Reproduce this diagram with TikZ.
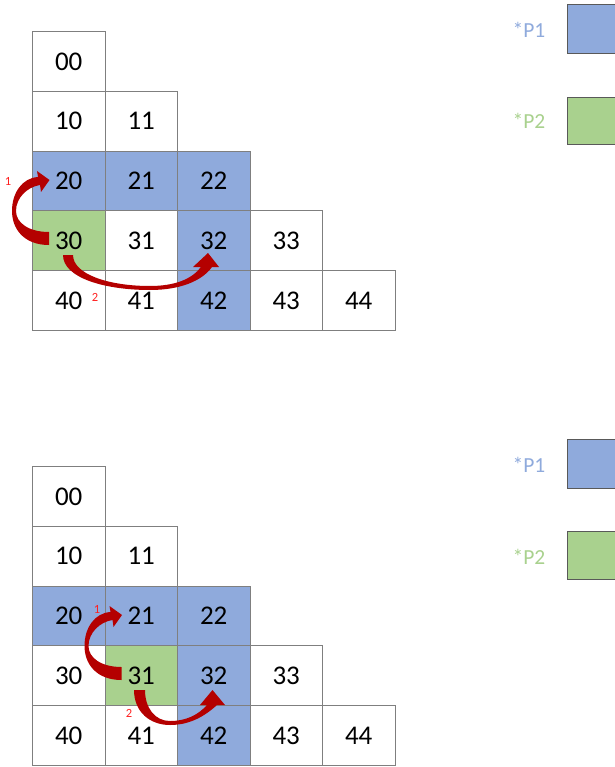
\documentclass[tikz,border=0pt]{standalone}
\usepackage{fontspec}
\setmainfont{Carlito}
\definecolor{pblue}{HTML}{8FAADC}
\definecolor{pgreen}{HTML}{A9D18E}
\definecolor{gridgray}{HTML}{7F7F7F}
\definecolor{boxgray}{HTML}{595959}
\definecolor{arrred}{HTML}{B40000}
\definecolor{labred}{HTML}{FF2020}
\begin{document}
\begin{tikzpicture}[x=1pt,y=-1pt,
 cell/.style={draw=gridgray, line width=0.9pt, minimum width=72.5pt, minimum height=59.8pt, anchor=north west, inner sep=0pt, font=\fontsize{27}{30}\selectfont},
 bcell/.style={cell, fill=pblue},
 gcell/.style={cell, fill=pgreen},
 legbox/.style={draw=boxgray, line width=1.2pt, minimum width=60pt, anchor=north west, inner sep=0pt},
 legtext/.style={font=\fontsize{21.5}{24}\selectfont, anchor=center, inner sep=0pt},
 redlab/.style={text=labred, font=\fontsize{12.5}{14}\selectfont, inner sep=0pt},
 blockarrow/.style={fill=arrred, draw=none}]
\useasboundingbox (0,0) rectangle (614,767);

% ---------- top grid ----------
\node[cell]  (t00) at (32,31) {00};
\node[cell]  (t10) at (32,90.8) {10};
\node[cell]  (t11) at (104.5,90.8) {11};
\node[bcell] (t20) at (32,150.6) {20};
\node[bcell] (t21) at (104.5,150.6) {21};
\node[bcell] (t22) at (177,150.6) {22};
\node[gcell] (t30) at (32,210.4) {30};
\node[cell]  (t31) at (104.5,210.4) {31};
\node[bcell] (t32) at (177,210.4) {32};
\node[cell]  (t33) at (249.5,210.4) {33};
\node[cell]  (t40) at (32,270.2) {40};
\node[cell]  (t41) at (104.5,270.2) {41};
\node[bcell] (t42) at (177,270.2) {42};
\node[cell]  (t43) at (249.5,270.2) {43};
\node[cell]  (t44) at (322,270.2) {44};

% ---------- bottom grid ----------
\node[cell]  (b00) at (32,466) {00};
\node[cell]  (b10) at (32,525.8) {10};
\node[cell]  (b11) at (104.5,525.8) {11};
\node[bcell] (b20) at (32,585.6) {20};
\node[bcell] (b21) at (104.5,585.6) {21};
\node[bcell] (b22) at (177,585.6) {22};
\node[cell]  (b30) at (32,645.4) {30};
\node[gcell] (b31) at (104.5,645.4) {31};
\node[bcell] (b32) at (177,645.4) {32};
\node[cell]  (b33) at (249.5,645.4) {33};
\node[cell]  (b40) at (32,705.2) {40};
\node[cell]  (b41) at (104.5,705.2) {41};
\node[bcell] (b42) at (177,705.2) {42};
\node[cell]  (b43) at (249.5,705.2) {43};
\node[cell]  (b44) at (322,705.2) {44};

% ---------- legends ----------
\node[legbox, fill=pblue, minimum height=49pt]  (tl1) at (567,4) {};
\node[legbox, fill=pgreen, minimum height=47pt] (tl2) at (567,97) {};
\node[legtext, text=pblue]  (tt1) at (529,30) {*P1};
\node[legtext, text=pgreen] (tt2) at (529,121) {*P2};
\node[legbox, fill=pblue, minimum height=49pt]  (bl1) at (567,439) {};
\node[legbox, fill=pgreen, minimum height=48pt] (bl2) at (567,531) {};
\node[legtext, text=pblue]  (bt1) at (529,465) {*P1};
\node[legtext, text=pgreen] (bt2) at (529,557) {*P2};

% ---------- arrows (top) ----------
\fill[blockarrow] (49,245) .. controls (24,245) and (12,229) .. (12,211)
  .. controls (12,193) and (22,178) .. (38,177) -- (37,171) -- (49.5,180) -- (41,192) -- (40,185)
  .. controls (27,187) and (16,198) .. (16,211)
  .. controls (16,223) and (29,232) .. (49,232) -- cycle;
\fill[blockarrow] (63,255) .. controls (63,278) and (105,290) .. (150,290)
  .. controls (180,290) and (202,281) .. (212,267) -- (219,267) -- (208,253) -- (193,267) -- (201,267)
  .. controls (192,279) and (175,286) .. (150,286)
  .. controls (108,286) and (73,274) .. (73,255) -- cycle;
\node[redlab] (tr1) at (8,181) {1};
\node[redlab] (tr2) at (95,297) {2};

% ---------- arrows (bottom) ----------
\begin{scope}[shift={(72.5,435)}]
\fill[blockarrow] (49,245) .. controls (24,245) and (12,229) .. (12,211)
  .. controls (12,193) and (22,178) .. (38,177) -- (37,171) -- (49.5,180) -- (41,192) -- (40,185)
  .. controls (27,187) and (16,198) .. (16,211)
  .. controls (16,223) and (29,232) .. (49,232) -- cycle;
\end{scope}
\fill[blockarrow] (134,690) .. controls (134,712) and (150,725) .. (170,725)
  .. controls (190,725) and (205,716) .. (217,705) -- (225,705) -- (212.5,690) -- (200,705) -- (207,705)
  .. controls (198,715) and (186,721) .. (170,721)
  .. controls (155,721) and (145,708) .. (145,690) -- cycle;
\node[redlab] (br1) at (97,609) {1};
\node[redlab] (br2) at (129,713) {2};
\end{tikzpicture}
\end{document}
